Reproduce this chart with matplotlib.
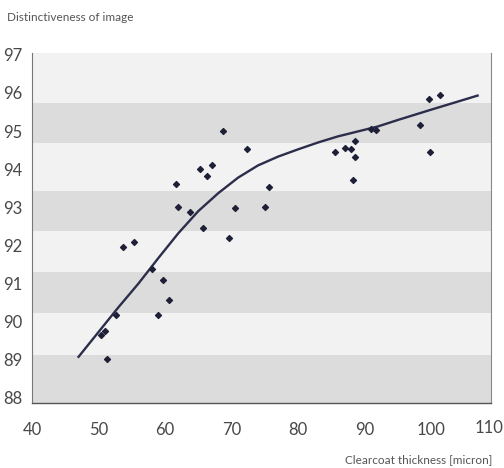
import matplotlib
matplotlib.use("Agg")
import matplotlib.pyplot as plt

# scatter data
thickness = [53.7, 55.3, 61.7, 62.0, 63.7, 65.7, 65.3, 66.3, 67.1, 68.7, 69.6, 70.5, 72.4,
             75.1, 75.6, 85.5, 87.1, 88.0, 88.5, 88.5, 88.2, 90.9, 91.7, 98.3, 99.7, 101.3, 99.9,
             58.0, 59.7, 60.6, 59.0, 52.7, 51.0, 50.4, 51.3]
doi = [91.97, 92.09, 93.62, 93.0, 92.88, 92.47, 94.0, 93.81, 94.1, 95.01, 92.2, 92.98, 94.53,
       93.0, 93.52, 94.45, 94.55, 94.53, 94.75, 94.33, 93.72, 95.05, 95.03, 95.15, 95.85, 95.95, 94.46,
       91.38, 91.09, 90.56, 90.17, 90.17, 89.76, 89.66, 89.02]

# trend curve nodes
curve_x = [47, 50, 53, 56, 59, 62, 65, 68, 71, 74, 77, 80, 83, 86, 89, 92, 95, 100, 107]
curve_y = [89.08, 89.73, 90.38, 91.0, 91.67, 92.32, 92.9, 93.37, 93.78, 94.1, 94.33, 94.52,
           94.7, 94.86, 94.99, 95.12, 95.29, 95.56, 95.93]

x_ticks = [40, 50, 60, 70, 80, 90, 100]
y_ticks = [88, 89, 90, 91, 92, 93, 94, 95, 96, 97]

plt.rcParams['font.family'] = ['Lato', 'DejaVu Sans']

fig = plt.figure(figsize=(5.04, 4.68), dpi=100)
ax = fig.add_axes([0.0635, 0.139, 0.9105, 0.748])

ax.set_facecolor('#f2f2f2')
for lo, hi in [(87.8, 89.12), (90.22, 91.3), (92.37, 93.42), (94.68, 95.74)]:
    ax.axhspan(lo, hi, color='#dcdcdc', lw=0, zorder=0)

ax.plot(curve_x, curve_y, color='#2b2d4a', lw=1.7, zorder=2)
ax.scatter(thickness, doi, marker='D', s=9, color='#1e2038', zorder=3)

ax.set_xlim(40, 109)
ax.set_ylim(87.87, 97.05)
ax.set_xticks(x_ticks)
ax.set_yticks(y_ticks)
ax.tick_params(length=0, labelsize=12, colors='#484848', pad=14)
ax.tick_params(axis='y', pad=7)
# the 110 label sits past the right spine in the original
fig.text(0.998, 0.085, '110', fontsize=12, color='#484848', ha='right', va='center')

ax.spines['top'].set_visible(False)
ax.spines['left'].set_color('#777777')
ax.spines['bottom'].set_color('#555555')
ax.spines['right'].set_color('#888888')
ax.spines['left'].set_linewidth(0.8)
ax.spines['bottom'].set_linewidth(1.0)
ax.spines['right'].set_linewidth(0.8)

fig.text(0.014, 0.962, 'Distinctiveness of image', fontsize=8.5, color='#555555', va='center')
fig.text(0.977, 0.017, 'Clearcoat thickness [micron]', fontsize=8.5, color='#555555',
         ha='right', va='center')

fig.savefig('out.png', dpi=100)
